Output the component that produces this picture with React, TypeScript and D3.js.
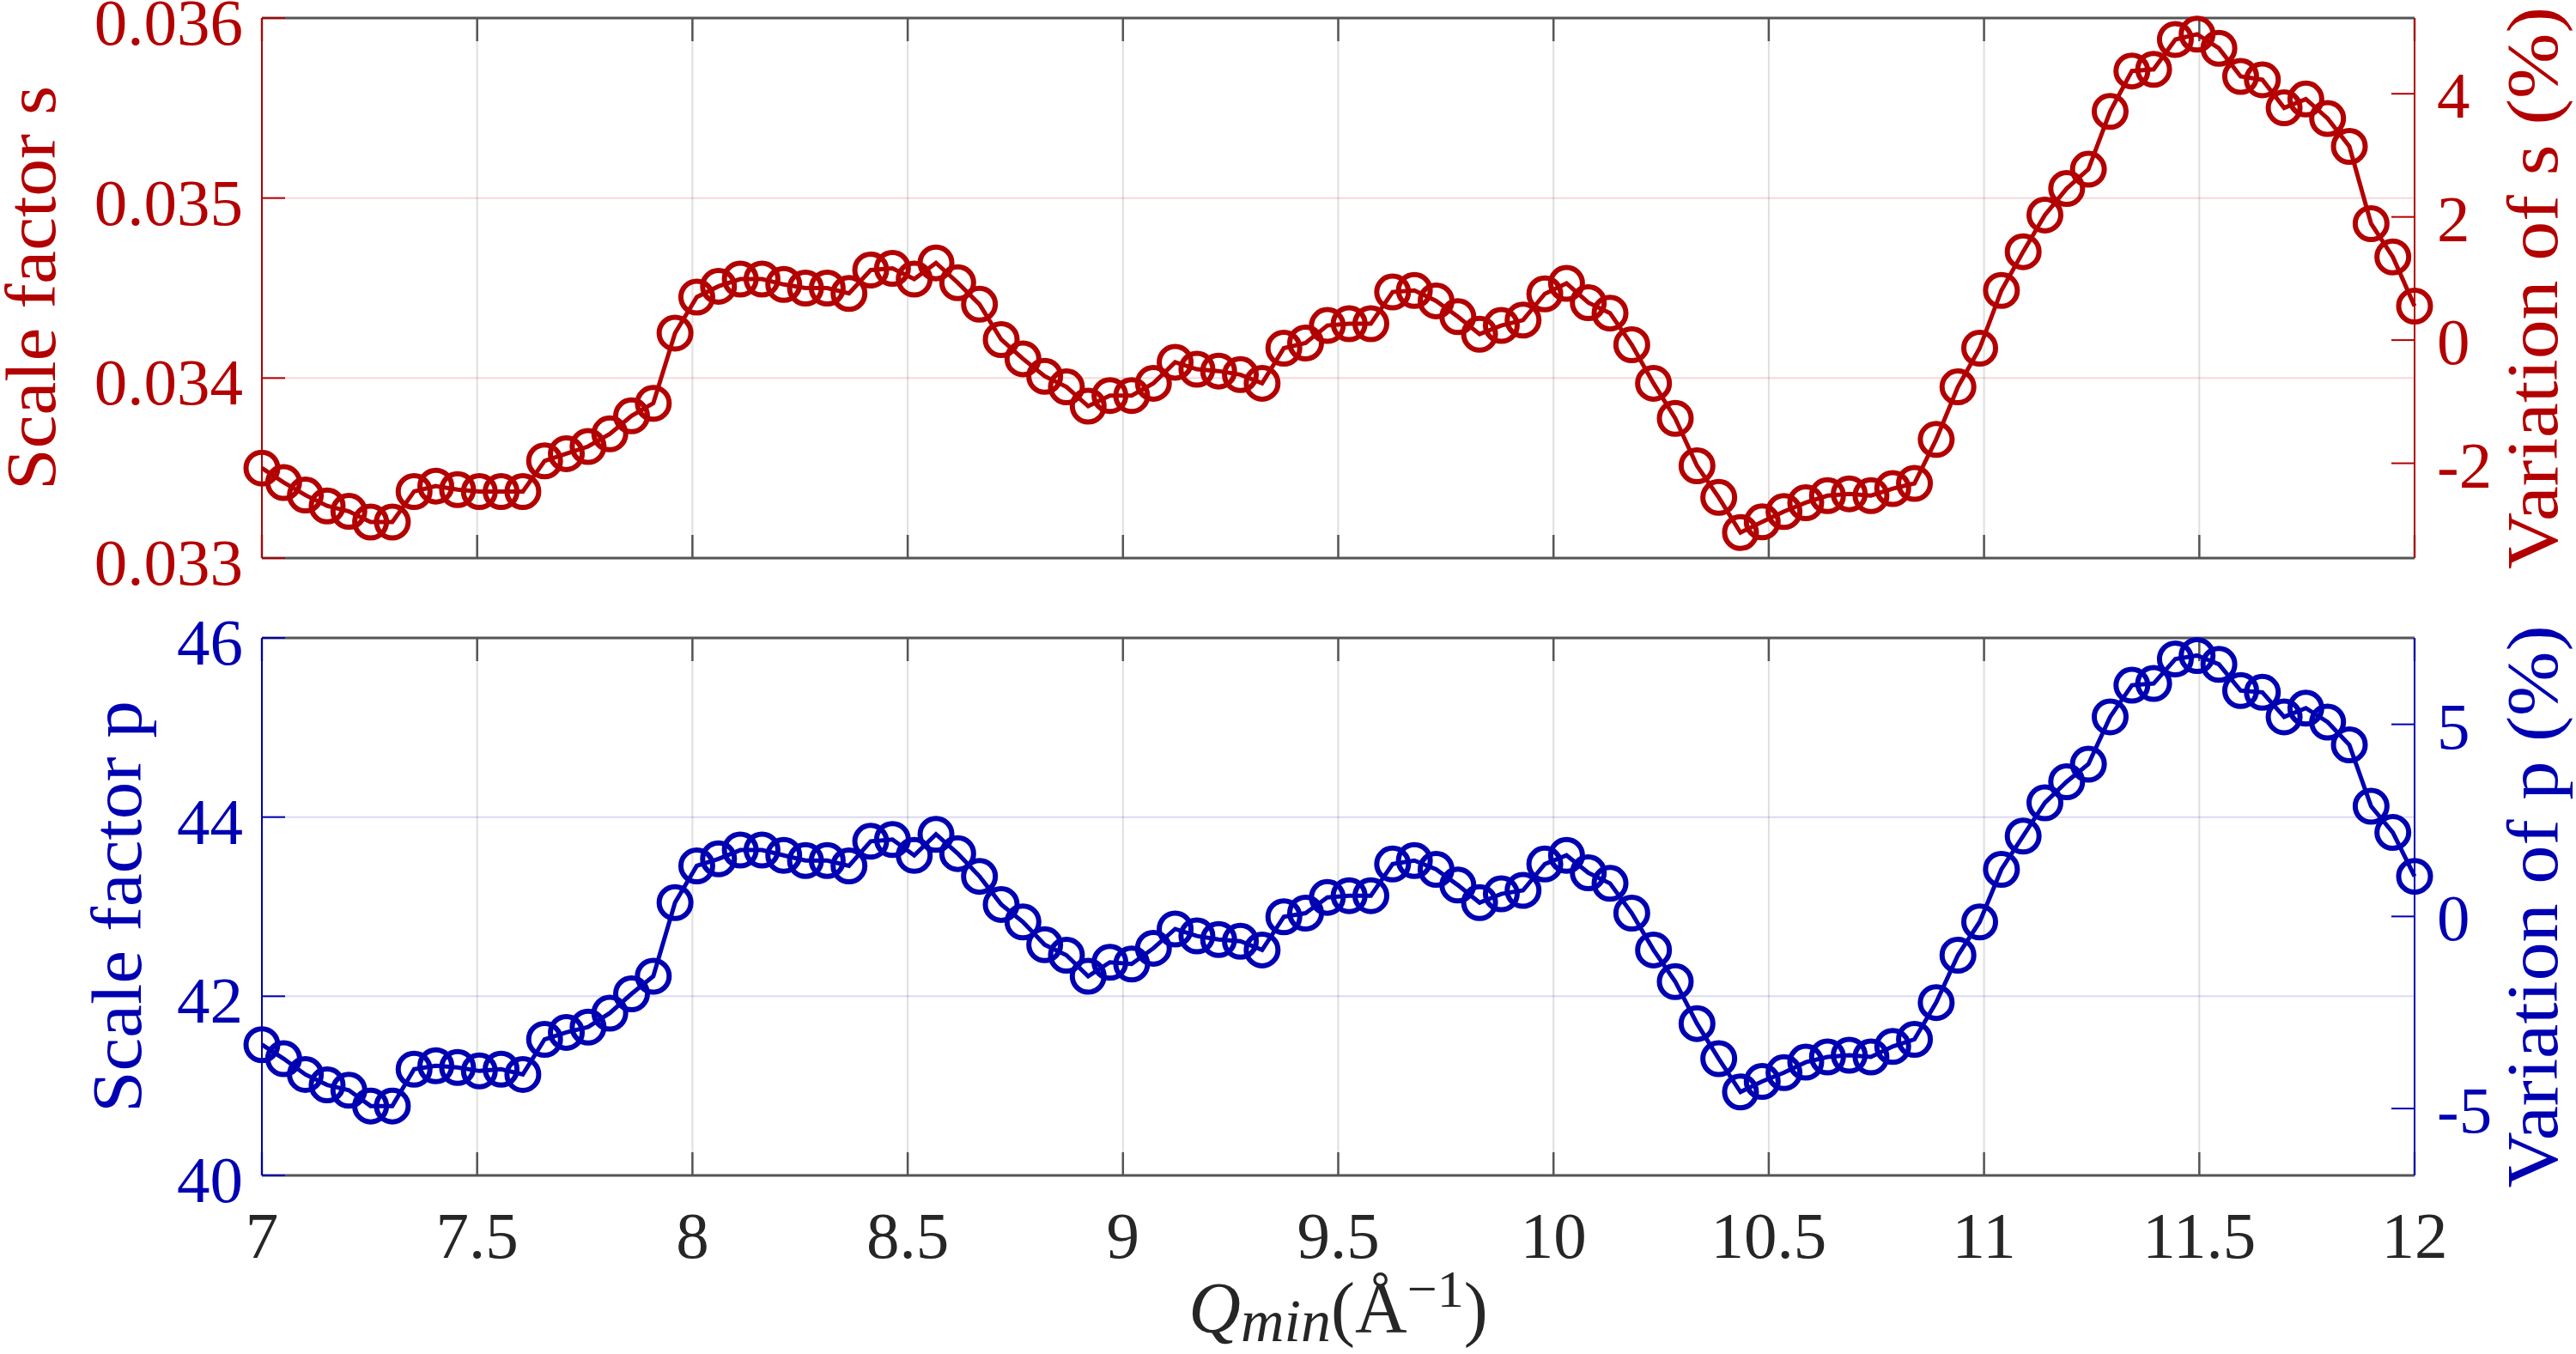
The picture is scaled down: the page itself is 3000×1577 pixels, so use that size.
import React from 'react';
import * as d3 from 'd3';

// ---------- data ----------
const Q_MIN = [
  7.0000, 7.0505, 7.1010, 7.1515, 7.2020, 7.2525, 7.3030, 7.3535, 7.4040, 7.4545,
  7.5051, 7.5556, 7.6061, 7.6566, 7.7071, 7.7576, 7.8081, 7.8586, 7.9091, 7.9596,
  8.0101, 8.0606, 8.1111, 8.1616, 8.2121, 8.2626, 8.3131, 8.3636, 8.4141, 8.4646,
  8.5152, 8.5657, 8.6162, 8.6667, 8.7172, 8.7677, 8.8182, 8.8687, 8.9192, 8.9697,
  9.0202, 9.0707, 9.1212, 9.1717, 9.2222, 9.2727, 9.3232, 9.3737, 9.4242, 9.4747,
  9.5253, 9.5758, 9.6263, 9.6768, 9.7273, 9.7778, 9.8283, 9.8788, 9.9293, 9.9798,
  10.0303, 10.0808, 10.1313, 10.1818, 10.2323, 10.2828, 10.3333, 10.3838, 10.4343, 10.4848,
  10.5354, 10.5859, 10.6364, 10.6869, 10.7374, 10.7879, 10.8384, 10.8889, 10.9394, 10.9899,
  11.0404, 11.0909, 11.1414, 11.1919, 11.2424, 11.2929, 11.3434, 11.3939, 11.4444, 11.4949,
  11.5455, 11.5960, 11.6465, 11.6970, 11.7475, 11.7980, 11.8485, 11.8990, 11.9495, 12.0000,
];

const S_FACTOR = [
  0.03350, 0.03342, 0.03335, 0.03329, 0.03326, 0.03320, 0.03320, 0.03337, 0.03340, 0.03338,
  0.03337, 0.03337, 0.03337, 0.03354, 0.03358, 0.03362, 0.03369, 0.03379, 0.03386, 0.03425,
  0.03445, 0.03451, 0.03455, 0.03455, 0.03452, 0.03450, 0.03450, 0.03447, 0.03460, 0.03461,
  0.03455, 0.03464, 0.03453, 0.03441,
  0.034214, 0.034107, 0.034010, 0.033951, 0.033844, 0.033903, 0.033903, 0.033971, 0.034088, 0.034049,
  0.034039, 0.034019, 0.033971, 0.034166, 0.034195, 0.034292, 0.034302, 0.034302, 0.034478, 0.034487,
  0.034429, 0.034341, 0.034244, 0.034292, 0.034322, 0.034468, 0.034526, 0.034419, 0.034361, 0.034185,
  0.033971, 0.033776,
  0.033513, 0.033337, 0.033142, 0.033201, 0.033259, 0.033308, 0.033347, 0.033357, 0.033347, 0.033386,
  0.033415, 0.033659, 0.033951, 0.034166, 0.034487, 0.034702, 0.034906, 0.035053, 0.035160, 0.035481,
  0.035706, 0.035715, 0.035881, 0.035910, 0.035832, 0.035676, 0.035657, 0.035501, 0.035550, 0.035442,
  0.035287, 0.034858, 0.034673, 0.034400,
];

const P_FACTOR = [
  41.460, 41.303, 41.127, 41.010, 40.951, 40.775, 40.775, 41.186, 41.225, 41.205,
  41.166, 41.186, 41.127, 41.519, 41.597, 41.656, 41.812, 42.027, 42.223, 43.045,
  43.456, 43.534, 43.632, 43.632, 43.573, 43.515, 43.515, 43.456, 43.730, 43.750,
  43.573, 43.808, 43.593, 43.339,
  43.025, 42.830, 42.575, 42.458, 42.223, 42.380, 42.360, 42.536, 42.751, 42.673,
  42.634, 42.614, 42.517, 42.888, 42.928, 43.104, 43.123, 43.123, 43.476, 43.515,
  43.417, 43.241, 43.045, 43.143, 43.182, 43.476, 43.573, 43.378, 43.260, 42.928,
  42.517, 42.164,
  41.695, 41.303, 40.932, 41.049, 41.147, 41.264, 41.323, 41.342, 41.323, 41.440,
  41.519, 41.930, 42.458, 42.830, 43.417, 43.789, 44.160, 44.395, 44.591, 45.119,
  45.472, 45.491, 45.765, 45.804, 45.706, 45.413, 45.393, 45.119, 45.217, 45.061,
  44.806, 44.121, 43.828, 43.339,
];

const X_TICKS = [7, 7.5, 8, 8.5, 9, 9.5, 10, 10.5, 11, 11.5, 12];
const X_TICK_LABELS = ['7', '7.5', '8', '8.5', '9', '9.5', '10', '10.5', '11', '11.5', '12'];
const S_TICKS = [0.033, 0.034, 0.035, 0.036];
const S_TICK_LABELS = ['0.033', '0.034', '0.035', '0.036'];
const S_VAR_TICKS = [-2, 0, 2, 4];
const P_TICKS = [40, 42, 44, 46];
const P_TICK_LABELS = ['40', '42', '44', '46'];
const P_VAR_TICKS = [-5, 0, 5];

// ---------- style ----------
const W = 3000;
const H = 1577;
const X_LEFT = 305;
const X_RIGHT = 2812;
const RED = '#b30000';
const BLUE = '#0000b3';
const BOX = '#555555';
const GRID = '#262626';
const FONT = "'Liberation Serif', 'DejaVu Serif', serif";
const FS = 77;
const TICK = 27;

type Panel = {
  values: number[];
  ticks: number[];
  tickLabels: string[];
  varTicks: number[];
  domain: [number, number];
  top: number;
  bottom: number;
  color: string;
  label: string;
  labelX: number;
  labelLen: number;
  varLabel: string;
  showX: boolean;
};

const PANELS: Panel[] = [
  {
    values: S_FACTOR, ticks: S_TICKS, tickLabels: S_TICK_LABELS, varTicks: S_VAR_TICKS,
    domain: [0.033, 0.036], top: 21, bottom: 650, color: RED,
    label: 'Scale factor s', labelX: 64, labelLen: 471, varLabel: 'Variation of s (%)', showX: false,
  },
  {
    values: P_FACTOR, ticks: P_TICKS, tickLabels: P_TICK_LABELS, varTicks: P_VAR_TICKS,
    domain: [40, 46], top: 743, bottom: 1369, color: BLUE,
    label: 'Scale factor p', labelX: 164, labelLen: 480, varLabel: 'Variation of p (%)', showX: true,
  },
];

function PanelView({ p, x }: { p: Panel; x: d3.ScaleLinear<number, number> }) {
  const y = d3.scaleLinear().domain(p.domain).range([p.bottom, p.top]);
  const mean = d3.mean(p.values) as number;
  const yVar = d3
    .scaleLinear()
    .domain([(p.domain[0] / mean - 1) * 100, (p.domain[1] / mean - 1) * 100])
    .range([p.bottom, p.top]);
  const line = d3
    .line<number>()
    .x((_, i) => x(Q_MIN[i]))
    .y((d) => y(d));
  const cy = (p.top + p.bottom) / 2;

  return (
    <g>
      {X_TICKS.slice(1, -1).map((t) => (
        <line key={'gx' + t} x1={x(t)} x2={x(t)} y1={p.top} y2={p.bottom}
          stroke={GRID} strokeOpacity={0.15} strokeWidth={2} />
      ))}
      {p.ticks.slice(1, -1).map((t) => (
        <line key={'gy' + t} x1={X_LEFT} x2={X_RIGHT} y1={y(t)} y2={y(t)}
          stroke={p.color} strokeOpacity={0.15} strokeWidth={2} />
      ))}
      <line x1={X_LEFT} x2={X_RIGHT} y1={p.top} y2={p.top} stroke={BOX} strokeWidth={3} />
      <line x1={X_LEFT} x2={X_RIGHT} y1={p.bottom} y2={p.bottom} stroke={BOX} strokeWidth={3} />
      {X_TICKS.map((t) => (
        <g key={'xt' + t}>
          <line x1={x(t)} x2={x(t)} y1={p.bottom} y2={p.bottom - TICK} stroke={BOX} strokeWidth={2.5} />
          <line x1={x(t)} x2={x(t)} y1={p.top} y2={p.top + TICK} stroke={BOX} strokeWidth={2.5} />
        </g>
      ))}
      <line x1={X_LEFT} x2={X_LEFT} y1={p.top} y2={p.bottom} stroke={p.color} strokeWidth={2} />
      <line x1={X_RIGHT} x2={X_RIGHT} y1={p.top} y2={p.bottom} stroke={p.color} strokeWidth={2} />
      {p.ticks.map((t, i) => (
        <g key={'yt' + t}>
          <line x1={X_LEFT} x2={X_LEFT + TICK} y1={y(t)} y2={y(t)} stroke={p.color} strokeWidth={2} />
          <text x={X_LEFT - 22} y={y(t) + 31} textAnchor="end" fontFamily={FONT} fontSize={FS} fill={p.color}>
            {p.tickLabels[i]}
          </text>
        </g>
      ))}
      {p.varTicks.map((t) => (
        <g key={'vt' + t}>
          <line x1={X_RIGHT} x2={X_RIGHT - TICK} y1={yVar(t)} y2={yVar(t)} stroke={p.color} strokeWidth={2} />
          <text x={X_RIGHT + 26} y={yVar(t) + 28} textAnchor="start" fontFamily={FONT} fontSize={FS} fill={p.color}>
            {String(t)}
          </text>
        </g>
      ))}
      <text transform={`translate(${p.labelX},${cy}) rotate(-90)`} textAnchor="middle" fontFamily={FONT}
        fontSize={82} fill={p.color} textLength={p.labelLen} lengthAdjust="spacingAndGlyphs">
        {p.label}
      </text>
      <text transform={`translate(2978,${cy}) rotate(-90)`} textAnchor="middle" fontFamily={FONT}
        fontSize={84} fill={p.color} textLength={655} lengthAdjust="spacingAndGlyphs">
        {p.varLabel}
      </text>
      {p.showX &&
        X_TICKS.map((t, i) => (
          <text key={'xl' + t} x={x(t)} y={p.bottom + 96} textAnchor="middle" fontFamily={FONT}
            fontSize={FS} fill="#262626">
            {X_TICK_LABELS[i]}
          </text>
        ))}
      <path d={line(p.values) || ''} fill="none" stroke={p.color} strokeWidth={5} />
      {p.values.map((v, i) => (
        <circle key={'c' + i} cx={x(Q_MIN[i])} cy={y(v)} r={18.5} fill="none" stroke={p.color} strokeWidth={6} />
      ))}
    </g>
  );
}

export default function App() {
  const x = d3.scaleLinear().domain([7, 12]).range([X_LEFT, X_RIGHT]);
  return (
    <svg width={W} height={H} viewBox={`0 0 ${W} ${H}`}
      style={{ position: 'absolute', left: 0, top: 0, display: 'block', background: '#ffffff' }}>
      <rect x={0} y={0} width={W} height={H} fill="#ffffff" />
      {PANELS.map((p) => (
        <PanelView key={p.label} p={p} x={x} />
      ))}
      <text x={(X_LEFT + X_RIGHT) / 2} y={1552} textAnchor="middle" fontFamily={FONT} fontSize={84} fill="#262626">
        <tspan fontStyle="italic">Q</tspan>
        <tspan fontStyle="italic" fontSize={70} dy={10}>min</tspan>
        <tspan dy={-10}>(</tspan>
        <tspan>Å</tspan>
        <tspan fontSize={62} dy={-30}>−1</tspan>
        <tspan dy={30}>)</tspan>
      </text>
    </svg>
  );
}
